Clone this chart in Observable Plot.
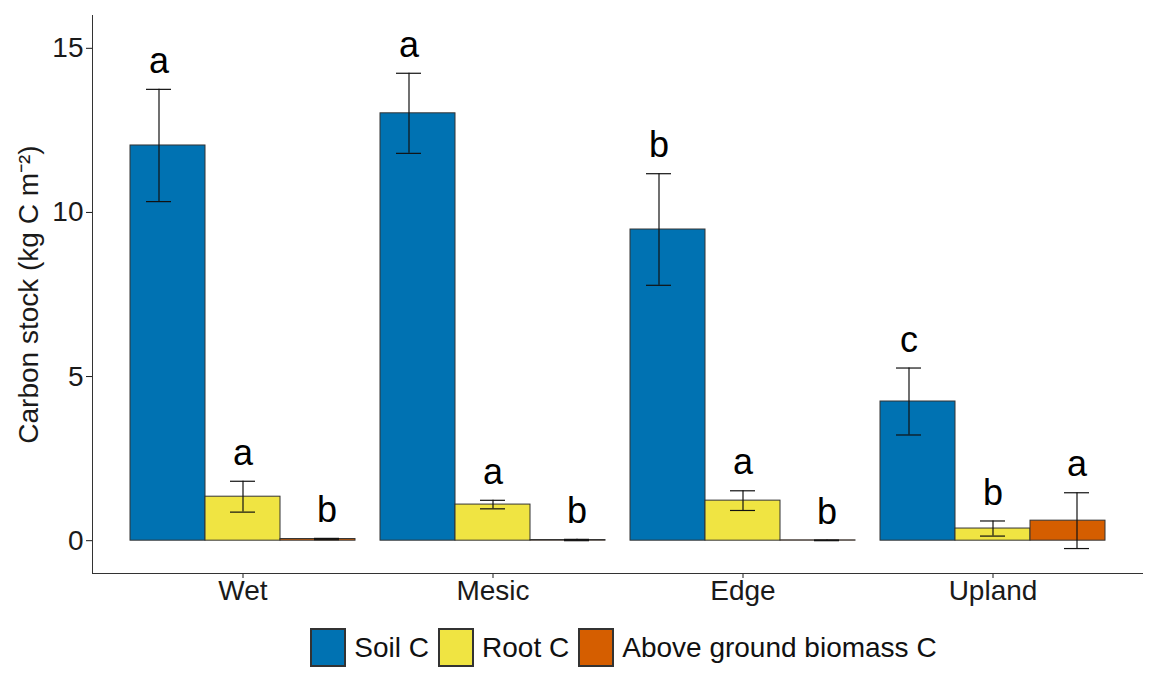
<!DOCTYPE html>
<html><head><meta charset="utf-8">
<script src="https://cdn.jsdelivr.net/npm/d3@7"></script>
<script src="https://cdn.jsdelivr.net/npm/@observablehq/plot@0.6"></script>
<style>
body{margin:0;background:#fff;font-family:"Liberation Sans",Arial,sans-serif;}
#chart{width:1152px;}
#legend{display:flex;justify-content:center;margin-top:14px;padding-left:106px;color:#111;}
#legend .leg-swatch svg rect{stroke:#333;stroke-width:2px;}
#legend .leg-swatch{margin-right:10px !important;}
#legend .leg-swatch svg{margin-right:9px !important;}
</style></head><body><div id="chart"></div><div id="legend"></div><script>
const sites = ["Wet", "Mesic", "Edge", "Upland"];
const components = ["Soil C", "Root C", "Above ground biomass C"];
const colors = ["#0072B2", "#F0E442", "#D55E00"];
const soilMean = [12.04, 13.02, 9.48, 4.24];
const soilSE = [1.71, 1.22, 1.70, 1.02];
const rootMean = [1.34, 1.10, 1.22, 0.37];
const rootSE = [0.47, 0.13, 0.30, 0.23];
const aboveMean = [0.05, 0.02, 0.01, 0.61];
const aboveSE = [0.02, 0.02, 0.01, 0.85];
const soilLetters = ["a", "a", "b", "c"];
const rootLetters = ["a", "a", "a", "b"];
const aboveLetters = ["b", "b", "b", "a"];
const yTicks = [0, 5, 10, 15];

const means = [soilMean, rootMean, aboveMean];
const ses = [soilSE, rootSE, aboveSE];
const lets = [soilLetters, rootLetters, aboveLetters];
const rows = [];
components.forEach((c, ci) => sites.forEach((s, si) => rows.push({
  site: s, comp: c, mean: means[ci][si], se: ses[ci][si], letter: lets[ci][si]
})));

const band = 225;           // group width in px (style)
const bar = band / 3;
const errStep = 84;         // error-bar dodge spacing (style)
const capHalf = 12.5;
const marks = components.flatMap((c, i) => {
  const d = rows.filter(r => r.comp === c);
  const off = (i - 1) * errStep;
  return [
    Plot.barY(d, {x: "site", y: "mean", fill: "comp", stroke: "#333", strokeWidth: 1,
      insetLeft: i * bar, insetRight: (2 - i) * bar}),
    Plot.ruleX(d, {x: "site", y1: r => r.mean - r.se, y2: r => r.mean + r.se, dx: off,
      stroke: "#111", strokeWidth: 1.2}),
    Plot.tickY(d, {x: "site", y: r => r.mean + r.se, dx: off,
      insetLeft: band / 2 - capHalf, insetRight: band / 2 - capHalf, stroke: "#111", strokeWidth: 1.2}),
    Plot.tickY(d, {x: "site", y: r => r.mean - r.se, dx: off,
      insetLeft: band / 2 - capHalf, insetRight: band / 2 - capHalf, stroke: "#111", strokeWidth: 1.2}),
    Plot.text(d, {x: "site", y: r => r.mean + r.se, text: "letter", dx: off, dy: -28,
      fontSize: 36, fill: "#000"})
  ];
});

const chart = Plot.plot({
  width: 1152, height: 615,
  marginLeft: 92, marginRight: 10, marginTop: 15, marginBottom: 42,
  style: {fontFamily: "'Liberation Sans', Arial, sans-serif", fontSize: "28px", color: "#1a1a1a", background: "#fff"},
  x: {domain: sites, paddingInner: 0.1, paddingOuter: 0.15, label: null, tickSize: 5, tickPadding: 2},
  y: {domain: [-1, 16], ticks: yTicks, tickSize: 6, tickPadding: 3,
      label: "Carbon stock (kg C m⁻²)", labelArrow: "none", labelAnchor: "center", labelOffset: 74},
  color: {domain: components, range: colors},
  marks: [
    Plot.frame({anchor: "left", stroke: "#333"}),
    Plot.frame({anchor: "bottom", stroke: "#333"}),
    ...marks
  ]
});
document.getElementById("chart").appendChild(chart);
const leg = chart.legend("color", {swatchWidth: 34, swatchHeight: 37, className: "leg",
  style: {fontSize: "28px", fontFamily: "'Liberation Sans', Arial, sans-serif", color: "#111"}});
document.getElementById("legend").appendChild(leg);
</script></body></html>
